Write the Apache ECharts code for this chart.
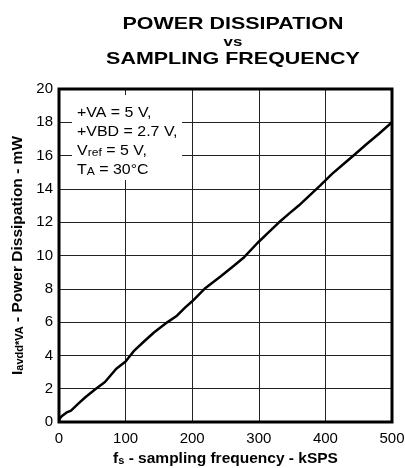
<!DOCTYPE html>
<html>
<head>
<meta charset="utf-8">
<script src="https://cdn.jsdelivr.net/npm/echarts@6/dist/echarts.min.js"></script>
<style>
  html, body { margin: 0; padding: 0; background: #fff; }
  #chart { width: 405px; height: 468px; }
</style>
</head>
<body>
<div id="chart"></div>
<script>
// sampling frequency (kSPS) and power dissipation (mW)
const freq = [0, 1, 4, 11, 18, 29, 40, 54, 69, 86, 100, 113, 128, 143, 163, 176, 190, 200, 220, 243, 263, 278, 298, 315, 330, 345, 360, 376, 392, 410, 426, 444, 462, 480, 500];
const power = [0.05, 0.2, 0.35, 0.56, 0.68, 1.1, 1.5, 1.95, 2.4, 3.2, 3.63, 4.29, 4.85, 5.39, 6.0, 6.35, 6.9, 7.25, 8.05, 8.75, 9.4, 9.9, 10.75, 11.4, 11.98, 12.5, 13.0, 13.6, 14.2, 14.9, 15.45, 16.07, 16.7, 17.3, 18.0];
const xTicks = [0, 100, 200, 300, 400, 500];
const yTicks = [0, 2, 4, 6, 8, 10, 12, 14, 16, 18, 20];
const noteLines = ['{n|+VA = 5 V,}', '{n|+VBD = 2.7 V,}', '{n|V}{sub|ref}{n| = 5 V,}', '{n|T}{sub|A}{n| = 30°C}'];

const font = 'Liberation Sans, Arial, sans-serif';
const chart = echarts.init(document.getElementById('chart'));

const nameRich = {
  b: { fontFamily: font, fontSize: 15.5, fontWeight: 'bold', color: '#000', lineHeight: 17, verticalAlign: 'bottom' },
  sub: { fontFamily: font, fontSize: 11, fontWeight: 'bold', color: '#000', lineHeight: 8, verticalAlign: 'bottom' }
};

const option = {
  animation: false,
  grid: {
    left: 59,
    right: 13,
    top: 89,
    bottom: 46,
    outerBoundsMode: 'none',
    containLabel: false,
    show: true,
    borderColor: '#000',
    borderWidth: 3,
    backgroundColor: 'transparent',
    z: 3
  },
  xAxis: {
    type: 'value',
    min: xTicks[0],
    max: xTicks[xTicks.length - 1],
    interval: 100,
    axisLine: { show: false },
    axisTick: { show: false },
    splitLine: { show: true, lineStyle: { color: '#222', width: 1 } },
    axisLabel: { color: '#000', fontFamily: font, fontSize: 15, margin: 9 },
    name: '{b|f}{sub|s}{b| - sampling frequency - kSPS}',
    nameLocation: 'middle',
    nameGap: 26,
    nameTextStyle: { rich: nameRich }
  },
  yAxis: {
    type: 'value',
    min: yTicks[0],
    max: yTicks[yTicks.length - 1],
    interval: 2,
    axisLine: { show: false },
    axisTick: { show: false },
    splitLine: { show: true, lineStyle: { color: '#222', width: 1 } },
    axisLabel: { color: '#000', fontFamily: font, fontSize: 15, margin: 6 },
    name: '{b|I}{sub|avdd*VA}{b| - Power Dissipation - mW}',
    nameLocation: 'middle',
    nameRotate: 90,
    nameGap: 29,
    nameTextStyle: { rich: nameRich }
  },
  graphic: [
    {
      type: 'text',
      x: 233,
      y: 15,
      scaleX: 1.3,
      style: {
        text: '{t|POWER DISSIPATION}\n{v|vs}\n{t|SAMPLING FREQUENCY}',
        align: 'center',
        verticalAlign: 'top',
        rich: {
          t: { fontFamily: font, fontSize: 16.5, fontWeight: 'bold', fill: '#000', lineHeight: 18.5, align: 'center' },
          v: { fontFamily: font, fontSize: 13, fontWeight: 'bold', fill: '#000', lineHeight: 17, align: 'center' }
        }
      }
    },
    {
      type: 'rect',
      x: 72,
      y: 95,
      shape: { width: 110, height: 85 },
      style: { fill: '#fff' },
      z: 1
    },
    {
      type: 'text',
      x: 77,
      y: 101,
      scaleX: 1.1,
      z: 2,
      style: {
        text: noteLines.join('\n'),
        verticalAlign: 'top',
        rich: {
          n: { fontFamily: font, fontSize: 14.5, fill: '#000', lineHeight: 19, verticalAlign: 'bottom' },
          sub: { fontFamily: font, fontSize: 11, fill: '#000', lineHeight: 11, verticalAlign: 'bottom' }
        }
      }
    }
  ],
  series: [
    {
      type: 'line',
      data: freq.map((f, i) => [f, power[i]]),
      showSymbol: false,
      smooth: false,
      lineStyle: { color: '#000', width: 2.5 },
      z: 4
    }
  ]
};

chart.setOption(option);
</script>
</body>
</html>
